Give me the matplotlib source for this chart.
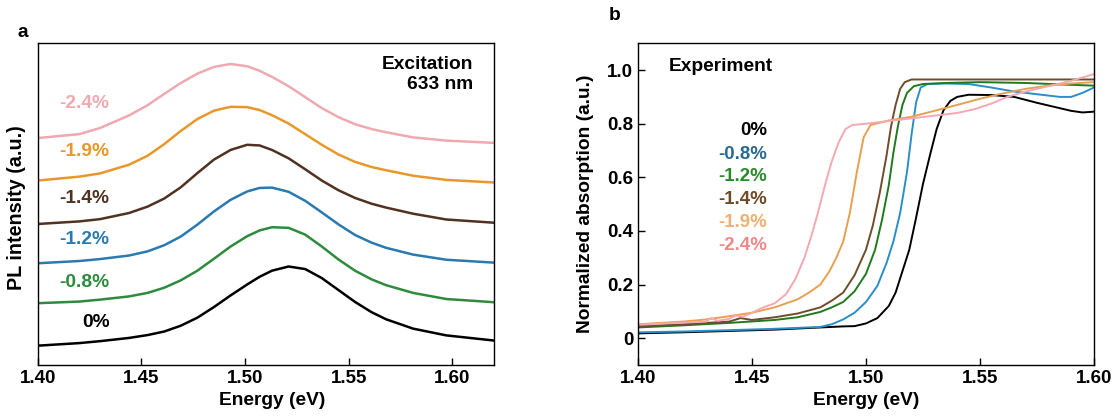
import matplotlib
matplotlib.use("Agg")
import matplotlib.pyplot as plt

plt.rcParams['font.family'] = ['Liberation Sans', 'DejaVu Sans']
plt.rcParams['font.weight'] = 'bold'

# ---- panel a: PL spectra (stacked, arbitrary units) ----
pl_energy = [1.40, 1.42, 1.43, 1.444, 1.453, 1.461, 1.469, 1.477, 1.485, 1.493,
             1.501, 1.507, 1.513, 1.521, 1.529, 1.537, 1.545, 1.553, 1.561, 1.568,
             1.581, 1.597, 1.62]
pl_0 = [0.60, 0.68, 0.74, 0.84, 0.93, 1.04, 1.22, 1.47, 1.80, 2.16,
        2.50, 2.74, 2.93, 3.06, 2.98, 2.70, 2.33, 1.96, 1.64, 1.42,
        1.13, 0.92, 0.76]
pl_08 = [1.92, 1.97, 2.03, 2.13, 2.24, 2.40, 2.63, 2.93, 3.30, 3.68,
         4.00, 4.18, 4.28, 4.26, 4.05, 3.68, 3.28, 2.93, 2.66, 2.48,
         2.24, 2.05, 1.95]
pl_12 = [3.16, 3.23, 3.29, 3.40, 3.53, 3.72, 3.99, 4.36, 4.77, 5.13,
         5.39, 5.50, 5.51, 5.38, 5.10, 4.74, 4.37, 4.04, 3.80, 3.64,
         3.43, 3.27, 3.18]
pl_14 = [4.38, 4.46, 4.53, 4.72, 4.92, 5.17, 5.52, 5.96, 6.38, 6.68,
         6.84, 6.82, 6.68, 6.42, 6.08, 5.73, 5.43, 5.19, 5.01, 4.89,
         4.70, 4.52, 4.42]
pl_19 = [5.73, 5.85, 5.95, 6.22, 6.50, 6.86, 7.27, 7.64, 7.90, 8.02,
         8.01, 7.92, 7.76, 7.50, 7.17, 6.84, 6.54, 6.31, 6.15, 6.05,
         5.88, 5.75, 5.67]
pl_24 = [7.05, 7.17, 7.36, 7.75, 8.07, 8.42, 8.76, 9.05, 9.26, 9.35,
         9.28, 9.14, 8.95, 8.66, 8.32, 7.98, 7.70, 7.48, 7.33, 7.23,
         7.07, 6.97, 6.90]

strain_labels = ['0%', '-0.8%', '-1.2%', '-1.4%', '-1.9%', '-2.4%']
pl_label_y = [1.32, 2.57, 3.89, 5.16, 6.63, 8.13]
colors_a = ['#000000', '#2e8b3e', '#2a7ab0', '#4f3222', '#e8982a', '#eeaab0']

# ---- panel b: absorption ----
e_0 = [1.40, 1.42, 1.44, 1.46, 1.48, 1.49, 1.495, 1.500, 1.505, 1.510, 1.513, 1.516,
       1.519, 1.522, 1.525, 1.528, 1.531, 1.534, 1.537, 1.540, 1.545, 1.555, 1.565,
       1.575, 1.585, 1.590, 1.595, 1.60]
a_0 = [0.018, 0.022, 0.027, 0.032, 0.040, 0.044, 0.045, 0.055, 0.075, 0.12, 0.17, 0.25,
       0.33, 0.45, 0.575, 0.68, 0.78, 0.85, 0.885, 0.90, 0.908, 0.907, 0.900,
       0.878, 0.858, 0.848, 0.842, 0.845]
e_08 = [1.40, 1.42, 1.44, 1.46, 1.48, 1.485, 1.49, 1.495, 1.50, 1.505, 1.509, 1.512,
        1.515, 1.518, 1.520, 1.522, 1.524, 1.527, 1.535, 1.545, 1.555, 1.565, 1.575,
        1.585, 1.590, 1.595, 1.60]
a_08 = [0.022, 0.025, 0.030, 0.035, 0.042, 0.052, 0.07, 0.095, 0.135, 0.195, 0.28, 0.36,
        0.467, 0.62, 0.76, 0.88, 0.935, 0.948, 0.95, 0.948, 0.935, 0.92, 0.91,
        0.90, 0.90, 0.915, 0.935]
e_12 = [1.40, 1.42, 1.44, 1.46, 1.47, 1.48, 1.485, 1.49, 1.495, 1.50, 1.504, 1.507,
        1.510, 1.512, 1.514, 1.516, 1.518, 1.521, 1.525, 1.535, 1.55, 1.57, 1.59, 1.60]
a_12 = [0.040, 0.048, 0.057, 0.068, 0.078, 0.098, 0.115, 0.135, 0.175, 0.24, 0.33, 0.44,
        0.57, 0.69, 0.79, 0.87, 0.915, 0.94, 0.948, 0.952, 0.955, 0.952, 0.945, 0.942]
e_14 = [1.40, 1.42, 1.44, 1.445, 1.45, 1.46, 1.47, 1.48, 1.485, 1.49, 1.495, 1.50,
        1.503, 1.506, 1.509, 1.511, 1.513, 1.515, 1.517, 1.520, 1.525, 1.55, 1.60]
a_14 = [0.045, 0.052, 0.062, 0.075, 0.068, 0.078, 0.092, 0.115, 0.14, 0.17, 0.235, 0.33,
        0.42, 0.54, 0.68, 0.79, 0.87, 0.93, 0.955, 0.965, 0.965, 0.965, 0.965]
e_19 = [1.40, 1.42, 1.43, 1.44, 1.45, 1.46, 1.47, 1.475, 1.48, 1.484, 1.487, 1.490,
        1.493, 1.496, 1.499, 1.502, 1.51, 1.52, 1.53, 1.54, 1.55, 1.56, 1.57, 1.58,
        1.59, 1.60]
a_19 = [0.052, 0.062, 0.07, 0.082, 0.095, 0.115, 0.145, 0.17, 0.20, 0.25, 0.30, 0.36,
        0.47, 0.62, 0.75, 0.795, 0.812, 0.826, 0.848, 0.87, 0.893, 0.913, 0.93, 0.942,
        0.95, 0.955]
e_24 = [1.40, 1.42, 1.43, 1.432, 1.435, 1.44, 1.443, 1.446, 1.45, 1.455, 1.46, 1.465,
        1.469, 1.473, 1.476, 1.479, 1.482, 1.485, 1.488, 1.491, 1.494, 1.50, 1.51,
        1.52, 1.53, 1.54, 1.548, 1.555, 1.562, 1.57, 1.58, 1.59, 1.60]
a_24 = [0.05, 0.058, 0.062, 0.075, 0.065, 0.072, 0.085, 0.08, 0.095, 0.115, 0.13, 0.165,
        0.22, 0.30, 0.38, 0.47, 0.57, 0.66, 0.73, 0.78, 0.795, 0.80, 0.81,
        0.82, 0.83, 0.84, 0.855, 0.875, 0.90, 0.92, 0.94, 0.96, 0.985]

abs_label_y = [0.775, 0.687, 0.604, 0.517, 0.431, 0.346]
colors_b = ['#000000', '#2a8fc8', '#1f7a1f', '#6e4c2c', '#e8a050', '#f4a8b4']
label_colors_b = ['#000000', '#2a6a90', '#2a8a2a', '#6e4a25', '#f0b070', '#f08888']

fig = plt.figure(figsize=(11.14, 4.17), dpi=100)
ax1 = fig.add_axes([0.0338, 0.1247, 0.4096, 0.772])
ax2 = fig.add_axes([0.5727, 0.1247, 0.4093, 0.7715])

FS = 13.8

# panel a
pl_curves = [pl_0, pl_08, pl_12, pl_14, pl_19, pl_24]
for i in range(6):
    ax1.plot(pl_energy, pl_curves[i], color=colors_a[i], lw=1.8,
             solid_joinstyle='round')
    ax1.text(1.4346, pl_label_y[i], strain_labels[i], color=colors_a[i],
             ha='right', va='center', fontsize=FS, fontweight='bold')
ax1.text(1.610, 9.6, 'Excitation\n633 nm', ha='right', va='top',
         fontsize=FS, fontweight='bold', linespacing=1.25)
ax1.set_xlim(1.40, 1.62)
ax1.set_ylim(0, 10)
ax1.set_yticks([])
ax1.set_xticks([1.40, 1.45, 1.50, 1.55, 1.60])
ax1.set_xticklabels(['1.40', '1.45', '1.50', '1.55', '1.60'])
ax1.set_xlabel('Energy (eV)', fontsize=FS, fontweight='bold')
ax1.set_ylabel('PL intensity (a.u.)', fontsize=FS + 0.4, fontweight='bold')
ax1.yaxis.set_label_coords(-0.026, 0.49)
ax1.xaxis.set_label_coords(0.513, -0.085)
ax1.text(-0.032, 1.034, 'a', transform=ax1.transAxes, fontsize=FS,
         fontweight='bold', ha='center', va='center')

# panel b
abs_e = [e_0, e_08, e_12, e_14, e_19, e_24]
abs_a = [a_0, a_08, a_12, a_14, a_19, a_24]
for i in range(6):
    ax2.plot(abs_e[i], abs_a[i], color=colors_b[i], lw=1.4)
    ax2.text(1.4567, abs_label_y[i], strain_labels[i], color=label_colors_b[i],
             ha='right', va='center', fontsize=13.4, fontweight='bold')
ax2.text(1.4137, 1.012, 'Experiment', ha='left', va='center',
         fontsize=FS, fontweight='bold')
ax2.set_xlim(1.40, 1.60)
ax2.set_ylim(-0.1, 1.1)
ax2.set_xticks([1.40, 1.45, 1.50, 1.55, 1.60])
ax2.set_xticklabels(['1.40', '1.45', '1.50', '1.55', '1.60'])
ax2.set_yticks([0, 0.2, 0.4, 0.6, 0.8, 1.0])
ax2.set_yticklabels(['0', '0.2', '0.4', '0.6', '0.8', '1.0'])
ax2.set_xlabel('Energy (eV)', fontsize=FS, fontweight='bold')
ax2.set_ylabel('Normalized absorption (a.u.)', fontsize=FS, fontweight='bold')
ax2.yaxis.set_label_coords(-0.097, 0.5)
ax2.xaxis.set_label_coords(0.5, -0.085)
ax2.text(-0.051, 1.085, 'b', transform=ax2.transAxes, fontsize=FS,
         fontweight='bold', ha='center', va='center')

for ax in (ax1, ax2):
    ax.tick_params(direction='in', length=5, width=1, labelsize=13.5)
    for lab in ax.get_xticklabels() + ax.get_yticklabels():
        lab.set_fontweight('bold')
    for sp in ax.spines.values():
        sp.set_linewidth(1.0)

fig.savefig('out.png', dpi=100)
